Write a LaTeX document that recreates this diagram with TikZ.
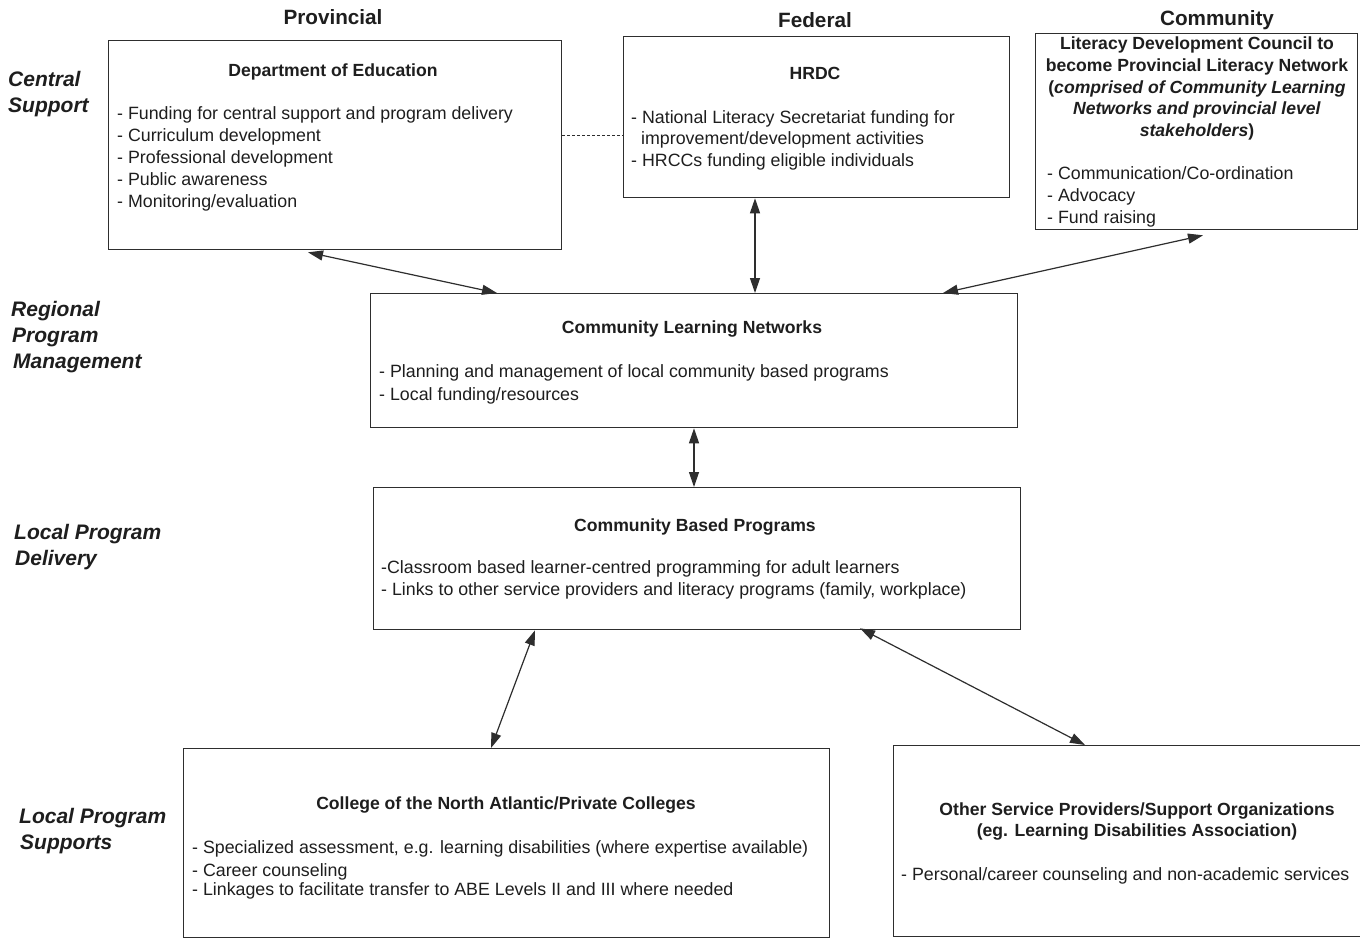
\documentclass[tikz,border=0pt]{standalone}
\usepackage{fontspec}
\setmainfont{Liberation Sans}
\usetikzlibrary{arrows.meta,calc}
\definecolor{ink}{HTML}{1E1E1E}
\definecolor{linec}{HTML}{2E2E2E}
\tikzset{
  box/.style={draw=linec, line width=1.3pt, inner sep=0pt, anchor=north west},
  hd/.style={inner sep=0pt, anchor=base, text=ink, font=\fontsize{20.7pt}{24pt}\selectfont\bfseries},
  side/.style={inner sep=0pt, anchor=base west, text=ink, font=\fontsize{21pt}{24pt}\selectfont\bfseries\itshape},
  ttl/.style={inner sep=0pt, anchor=base, text=ink, font=\fontsize{17.6pt}{21pt}\selectfont\bfseries},
  itm/.style={inner sep=0pt, anchor=base west, text=ink, font=\fontsize{17.8pt}{21pt}\selectfont},
  arr/.style={{Triangle[length=15pt,width=10pt]}-{Triangle[length=15pt,width=10pt]}, line width=1.2pt, draw=linec},
}
\begin{document}
\begin{tikzpicture}[x=1pt,y=-1pt]
\useasboundingbox (0,0) rectangle (1360,938);
\fill[white] (0,0) rectangle (1360,938);

% column headers
\node[hd] (hprov) at (333,24) {Provincial};
\node[hd] (hfed) at (815,27) {Federal};
\node[hd] (hcom) at (1217,25) {Community};

% side labels
\node[side] (s1) at (8,86) {Central};
\node[side] (s2) at (8,112) {Support};
\node[side] (s3) at (11,316) {Regional};
\node[side] (s4) at (12,342) {Program};
\node[side] (s5) at (13,368) {Management};
\node[side] (s6) at (14,539) {Local Program};
\node[side] (s7) at (15,565) {Delivery};
\node[side] (s8) at (19,823) {Local Program};
\node[side] (s9) at (20,849) {Supports};

% boxes
\node[box, minimum width=453pt, minimum height=209pt] (dept) at (108,40) {};
\node[box, minimum width=386pt, minimum height=161pt] (hrdc) at (623,36) {};
\node[box, minimum width=322pt, minimum height=196pt] (comm) at (1035,33) {};
\node[box, minimum width=647pt, minimum height=134pt] (cln) at (370,293) {};
\node[box, minimum width=647pt, minimum height=142pt] (cbp) at (373,487) {};
\node[box, minimum width=646pt, minimum height=189pt] (coll) at (183,748) {};
\node[box, minimum width=480pt, minimum height=191pt] (other) at (893,745) {};

% Department of Education
\node[ttl] (dt) at (333,76) {Department of Education};
\node[itm] (d1) at (117,119) {- Funding for central support and program delivery};
\node[itm] (d2) at (117,141) {- Curriculum development};
\node[itm] (d3) at (117,163) {- Professional development};
\node[itm] (d4) at (117,185) {- Public awareness};
\node[itm] (d5) at (117,207) {- Monitoring/evaluation};

% HRDC
\node[ttl] (ht) at (815,79) {HRDC};
\node[itm] (h1) at (631,123) {- National Literacy Secretariat funding for};
\node[itm] (h2) at (641,144) {improvement/development activities};
\node[itm] (h3) at (631,166) {- HRCCs funding eligible individuals};

% Community
\node[ttl] (c1) at (1197,49) {Literacy Development Council to};
\node[ttl] (c2) at (1197,71) {become Provincial Literacy Network};
\node[ttl] (c3) at (1197,93) {(\textit{comprised of Community Learning}};
\node[ttl] (c4) at (1197,114) {\textit{Networks and provincial level}};
\node[ttl] (c5) at (1197,136) {\textit{stakeholders})};
\node[itm] (c6) at (1047,179) {- Communication/Co-ordination};
\node[itm] (c7) at (1047,201) {- Advocacy};
\node[itm] (c8) at (1047,223) {- Fund raising};

% Community Learning Networks
\node[ttl] (nt) at (692,333) {Community Learning Networks};
\node[itm] (n1) at (379,377) {- Planning and management of local community based programs};
\node[itm] (n2) at (379,400) {- Local funding/resources};

% Community Based Programs
\node[ttl] (bt) at (695,531) {Community Based Programs};
\node[itm] (b1) at (381,573) {-Classroom based learner-centred programming for adult learners};
\node[itm] (b2) at (381,595) {- Links to other service providers and literacy programs (family, workplace)};

% College
\node[ttl] (lt) at (506,809) {College of the North Atlantic/Private Colleges};
\node[itm] (l1) at (192,853) {- Specialized assessment, e.g. learning disabilities (where expertise available)};
\node[itm] (l2) at (192,876) {- Career counseling};
\node[itm] (l3) at (192,895) {- Linkages to facilitate transfer to ABE Levels II and III where needed};

% Other
\node[ttl] (ot1) at (1137,815) {Other Service Providers/Support Organizations};
\node[ttl] (ot2) at (1137,836) {(eg. Learning Disabilities Association)};
\node[itm] (o1) at (901,880) {- Personal/career counseling and non-academic services};

% connectors
\draw[linec, line width=1pt, dash pattern=on 3pt off 2pt] ($(dept.north east)+(0,95)$) -- ($(hrdc.north west)+(0,99)$);
\draw[arr] ($(dept.south west)+(200,2)$) -- ($(cln.north west)+(127,0)$);
\draw[arr] ($(hrdc.south west)+(132,0)$) -- ($(cln.north west)+(385,0)$);
\draw[arr] ($(comm.south west)+(168,5)$) -- ($(cln.north west)+(573,0)$);
\draw[arr] ($(cln.south west)+(324,0)$) -- ($(cbp.north west)+(321,0)$);
\draw[arr] ($(cbp.south west)+(162,0)$) -- ($(coll.north west)+(308,0)$);
\draw[arr] ($(cbp.south west)+(487,-2)$) -- ($(other.north west)+(192,0)$);
\end{tikzpicture}
\end{document}
